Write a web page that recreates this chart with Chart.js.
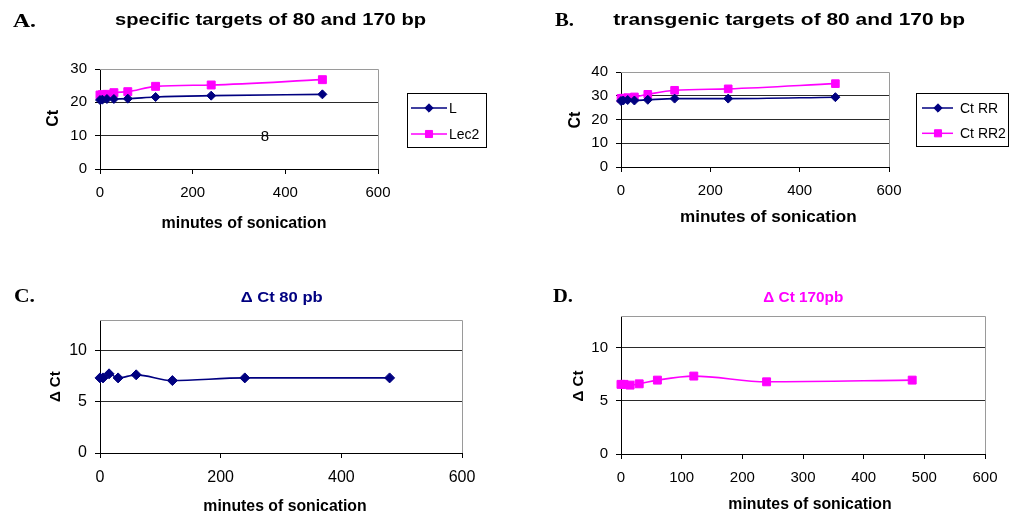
<!DOCTYPE html>
<html><head><meta charset="utf-8">
<script src="https://cdn.jsdelivr.net/npm/chart.js@4.4.1/dist/chart.umd.min.js"></script>
<style>
html,body{margin:0;padding:0;background:#fff;width:1013px;height:515px;overflow:hidden}
.p{position:absolute}
canvas{display:block}
</style></head><body>
<div class="p" style="left:0;top:0"><canvas id="cA" width="506" height="257"></canvas></div>
<div class="p" style="left:506px;top:0"><canvas id="cB" width="507" height="257"></canvas></div>
<div class="p" style="left:0;top:257px"><canvas id="cC" width="506" height="258"></canvas></div>
<div class="p" style="left:506px;top:257px"><canvas id="cD" width="507" height="258"></canvas></div>
<script>
// ---- data ----
const minutes = [0, 5, 15, 30, 60, 120, 240, 480];
const ctL     = [20.7, 20.8, 21.0, 21.0, 21.1, 21.6, 22.0, 22.4];
const ctLec2  = [22.2, 22.3, 22.4, 22.9, 23.2, 24.8, 25.2, 26.8];
const ctRR    = [27.8, 28.0, 28.2, 28.0, 28.3, 28.8, 28.8, 29.4];
const ctRR2   = [28.9, 29.0, 29.2, 29.5, 30.6, 32.3, 32.9, 35.1];
const dCt80   = [7.34, 7.34, 7.74, 7.34, 7.64, 7.08, 7.34, 7.34];
const dCt170  = [6.56, 6.56, 6.49, 6.61, 6.96, 7.34, 6.80, 6.96];

const xTicks200 = [0, 200, 400, 600];
const xTicks100 = [0, 100, 200, 300, 400, 500, 600];
const yTicksA = [0, 10, 20, 30];
const yTicksB = [0, 10, 20, 30, 40];
const yTicksCD = [0, 5, 10];

const panelLetters = ['A.', 'B.', 'C.', 'D.'];
const titles = ['specific targets of 80 and 170 bp', 'transgenic targets of 80 and 170 bp', '\u0394 Ct 80 pb', '\u0394 Ct 170pb'];
const xTitle = 'minutes of sonication';
const yTitles = ['Ct', 'Ct', '\u0394 Ct', '\u0394 Ct'];
const labelsA = ['L', 'Lec2'];
const labelsB = ['Ct RR', 'Ct RR2'];
const labelC = '\u0394 Ct 80 pb';
const labelD = '\u0394 Ct 170pb';
const strayText = '8';

// ---- styles ----
const SANS = '"Liberation Sans", Arial, sans-serif';
const SERIF = '"Liberation Serif", "Times New Roman", serif';
const NAVY = '#000080';
const MAGENTA = '#FF00FF';

function pts(arr){ return minutes.map((m,i)=>({x:m, y:arr[i]})); }

function ds(label, arr, color, style, r){
  return {label, data: pts(arr), borderColor: color, backgroundColor: color,
    borderWidth: 1.6, pointStyle: style, pointRadius: r, pointHoverRadius: r,
    pointBorderWidth: 1, cubicInterpolationMode: 'monotone', clip: false, fill: false};
}

function scales(xT, yT, yMax, fs, yW){
  return {
    x: {type:'linear', min:0, max:600,
      afterBuildTicks: s => { s.ticks = xT.map(v=>({value:v})); },
      afterFit: s => { s.height = 40; },
      ticks: {font:{family:SANS, size:fs}, color:'#000', padding:10, maxRotation:0, autoSkip:false},
      grid: {drawOnChartArea:false, tickLength:5, tickColor:'#000', color:'#000'},
      border: {color:'#000', width:1}},
    y: {type:'linear', min:0, max:yMax,
      afterBuildTicks: s => { s.ticks = yT.map(v=>({value:v})); },
      afterFit: s => { s.width = yW; },
      ticks: {font:{family:SANS, size:fs}, color:'#000', padding:8},
      grid: {color: c => (c.tick && c.tick.value === yMax) ? 'rgba(0,0,0,0)' : '#2a2a2a',
             tickLength:5, tickColor:'#000', lineWidth:1},
      border: {color:'#000', width:1}}
  };
}

function drawText(ctx, o){
  ctx.save();
  ctx.font = o.font;
  ctx.fillStyle = o.color || '#000';
  ctx.textBaseline = 'alphabetic';
  ctx.textAlign = o.align || 'center';
  ctx.translate(o.x, o.y);
  if (o.rot) ctx.rotate(o.rot);
  if (o.w){ const m = ctx.measureText(o.t).width; ctx.scale(o.w / m, 1); }
  ctx.fillText(o.t, 0, 0);
  ctx.restore();
}

const deco = {
  id: 'deco',
  beforeDatasetsDraw(chart){
    const {ctx, chartArea:a} = chart;
    ctx.save();
    ctx.strokeStyle = '#9a9a9a'; ctx.lineWidth = 1;
    const t = Math.round(a.top) + 0.5, r = Math.round(a.right) + 0.5;
    ctx.beginPath(); ctx.moveTo(a.left, t); ctx.lineTo(r, t); ctx.lineTo(r, a.bottom); ctx.stroke();
    ctx.restore();
  },
  afterDraw(chart){
    const o = chart.options.plugins.deco || {};
    const ctx = chart.ctx;
    (o.texts || []).forEach(t => drawText(ctx, t));
    if (o.stray){
      const px = chart.scales.x.getPixelForValue(o.stray.x);
      const py = chart.scales.y.getPixelForValue(o.stray.y);
      drawText(ctx, {t:o.stray.t, x:px, y:py + 5.5, font:'15px ' + SANS});
    }
    if (o.legend){
      const L = o.legend;
      ctx.save();
      ctx.strokeStyle = '#000'; ctx.lineWidth = 1;
      ctx.strokeRect(L.x + 0.5, L.y + 0.5, L.w, L.h);
      chart.data.datasets.forEach((d, i) => {
        const y = L.rows[i];
        ctx.strokeStyle = d.borderColor; ctx.fillStyle = d.backgroundColor; ctx.lineWidth = 1.5;
        ctx.beginPath(); ctx.moveTo(L.x1, y); ctx.lineTo(L.x2, y); ctx.stroke();
        ctx.lineWidth = 1;
        Chart.helpers.drawPoint(ctx, {pointStyle: d.pointStyle, radius: L.r[i], borderWidth: 1, rotation: 0}, L.mx, y);
        drawText(ctx, {t: d.label, x: L.tx, y: y + 5, font: '14px ' + SANS, align: 'left'});
      });
      ctx.restore();
    }
  }
};

function make(id, datasets, sc, pad, decoOpts){
  new Chart(document.getElementById(id), {
    type: 'line',
    data: {datasets},
    options: {
      responsive: false, animation: false, devicePixelRatio: 1,
      layout: {padding: pad},
      scales: sc,
      plugins: {legend:{display:false}, tooltip:{enabled:false}, deco: decoOpts}
    },
    plugins: [deco]
  });
}

// Panel A
make('cA', [ds(labelsA[0], ctL, NAVY, 'rectRot', 4.5), ds(labelsA[1], ctLec2, MAGENTA, 'rect', 5.6)],
  scales(xTicks200, yTicksA, 30, 15, 100), {top:69, right:128, left:0, bottom:48},
  {texts: [
    {t: panelLetters[0], x:13, y:26.5, font:'bold 18px ' + SERIF, w:23, align:'left'},
    {t: titles[0], x:270.5, y:25, font:'bold 17px ' + SANS, w:311},
    {t: yTitles[0], x:58, y:118.3, rot:-Math.PI/2, font:'bold 16px ' + SANS},
    {t: xTitle, x:244, y:228, font:'bold 16px ' + SANS, w:165}
  ],
  stray: {t: strayText, x: 356, y: 10},
  legend: {x:407, y:93, w:79, h:54, rows:[108, 134], x1:411, x2:447, mx:429, tx:449, r:[4.2, 5]}});

// Panel B
make('cB', [ds(labelsB[0], ctRR, NAVY, 'rectRot', 4.5), ds(labelsB[1], ctRR2, MAGENTA, 'rect', 5.4)],
  scales(xTicks200, yTicksB, 40, 15, 115), {top:72, right:124, left:0, bottom:50},
  {texts: [
    {t: panelLetters[1], x:49, y:26, font:'bold 18px ' + SERIF, w:19, align:'left'},
    {t: titles[1], x:283.2, y:25, font:'bold 17px ' + SANS, w:351.7},
    {t: yTitles[1], x:73.7, y:120, rot:-Math.PI/2, font:'bold 16px ' + SANS},
    {t: xTitle, x:262.3, y:222, font:'bold 16px ' + SANS, w:176.7}
  ],
  legend: {x:410, y:93, w:92, h:53, rows:[108, 133.3], x1:416, x2:447, mx:432, tx:454, r:[4.2, 5]}});

// Panel C
make('cC', [ds(labelC, dCt80, NAVY, 'rectRot', 5)],
  scales(xTicks200, yTicksCD, 13, 16, 100), {top:63, right:44, left:0, bottom:22},
  {texts: [
    {t: panelLetters[2], x:14, y:44.7, font:'bold 18px ' + SERIF, w:21, align:'left'},
    {t: titles[2], x:281.7, y:44.7, font:'bold 14px ' + SANS, w:82, color: NAVY},
    {t: yTitles[2], x:60.4, y:129.7, rot:-Math.PI/2, font:'bold 15px ' + SANS},
    {t: xTitle, x:285, y:253.5, font:'bold 16px ' + SANS, w:163.3}
  ]});

// Panel D
make('cD', [ds(labelD, dCt170, MAGENTA, 'rect', 5.6)],
  scales(xTicks100, yTicksCD, 13, 15, 115), {top:59, right:28, left:0, bottom:21},
  {texts: [
    {t: panelLetters[3], x:47, y:44.7, font:'bold 18px ' + SERIF, w:20, align:'left'},
    {t: titles[3], x:297.3, y:44.7, font:'bold 14px ' + SANS, w:80, color: MAGENTA},
    {t: yTitles[3], x:77.4, y:129, rot:-Math.PI/2, font:'bold 15px ' + SANS},
    {t: xTitle, x:304, y:252.3, font:'bold 16px ' + SANS, w:163.3}
  ]});
</script>
</body></html>
